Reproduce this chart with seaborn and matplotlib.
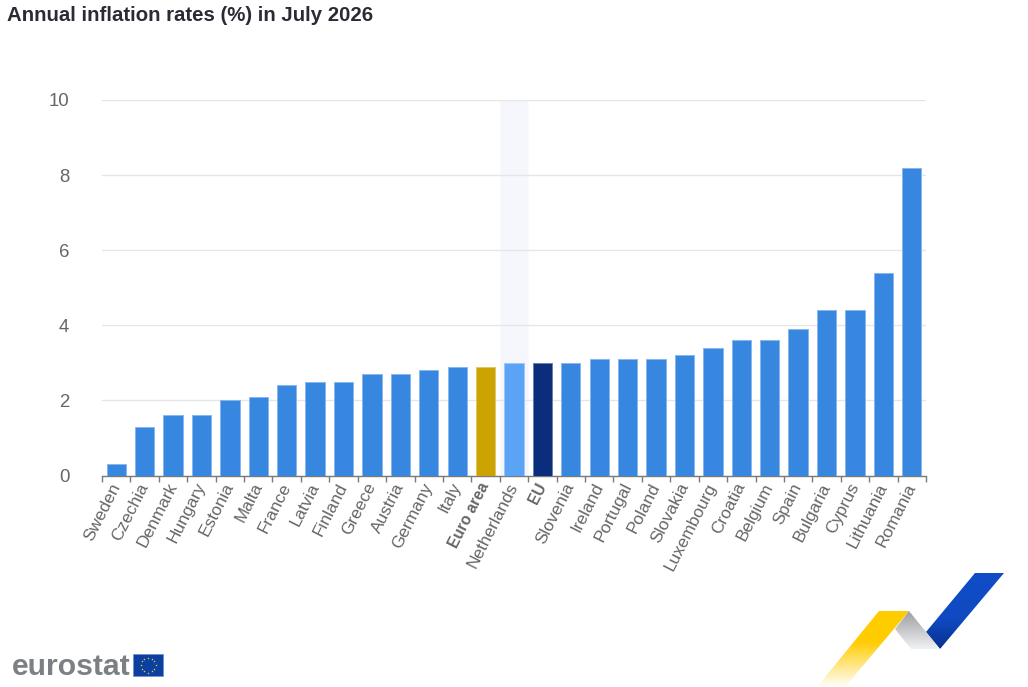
import numpy as np
import pandas as pd
import matplotlib
matplotlib.use('Agg')
import matplotlib.pyplot as plt
import seaborn as sns
from matplotlib.colors import to_rgb
from matplotlib.patches import Polygon, Rectangle

countries = ['Sweden', 'Czechia', 'Denmark', 'Hungary', 'Estonia', 'Malta', 'France', 'Latvia',
             'Finland', 'Greece', 'Austria', 'Germany', 'Italy', 'Euro area', 'Netherlands', 'EU',
             'Slovenia', 'Ireland', 'Portugal', 'Poland', 'Slovakia', 'Luxembourg', 'Croatia',
             'Belgium', 'Spain', 'Bulgaria', 'Cyprus', 'Lithuania', 'Romania']
rates = [0.3, 1.3, 1.6, 1.6, 2.0, 2.1, 2.4, 2.5, 2.5, 2.7, 2.7, 2.8, 2.9, 2.9, 3.0, 3.0,
         3.0, 3.1, 3.1, 3.1, 3.2, 3.4, 3.6, 3.6, 3.9, 4.4, 4.4, 5.4, 8.2]
y_ticks = [0, 2, 4, 6, 8, 10]

BLUE = '#3787e0'
special = {'Euro area': '#cca300', 'Netherlands': '#5aa3f5', 'EU': '#0a2d7c'}
bold_labels = ['Euro area', 'EU']
W, H = 1028, 687

sns.set_theme(style='white')
plt.rcParams['font.family'] = ['Liberation Sans', 'DejaVu Sans']

df = pd.DataFrame({'country': countries, 'rate': rates})
palette = {c: special.get(c, BLUE) for c in countries}

fig = plt.figure(figsize=(W / 100, H / 100), dpi=100)
ax = fig.add_axes([102 / W, 1 - 475.5 / H, 824 / W, 375.5 / H])

# highlighted column behind the bars
ax.axvspan(13.5, 14.5, color='#f5f7fc', lw=0, zorder=0)

sns.barplot(data=df, x='country', y='rate', hue='country', palette=palette, dodge=False,
            legend=False, width=0.68, saturation=1, ax=ax, zorder=3)

# thin lighter rim around each bar
for bar in ax.patches:
    r, g, b = to_rgb(bar.get_facecolor())
    bar.set_edgecolor((r + (1 - r) * 0.4, g + (1 - g) * 0.4, b + (1 - b) * 0.4))
    bar.set_linewidth(0.7)

ax.set_xlim(-0.5, len(countries) - 0.5)
ax.set_ylim(0, 10)
ax.set_xlabel('')
ax.set_ylabel('')
ax.set_yticks(y_ticks)
ax.tick_params(axis='y', length=0, labelsize=13.4, labelcolor='#666666', pad=23.5)
ax.yaxis.grid(True, color='#e6e6e6', lw=1)
ax.set_axisbelow(True)
for s in ['top', 'left', 'right']:
    ax.spines[s].set_visible(False)
ax.spines['bottom'].set_color('#7a7a7a')
ax.spines['bottom'].set_linewidth(1)

# ticks sit on the category boundaries, labels stay centred
ax.set_xticks(np.arange(len(countries) + 1) - 0.5)
ax.set_xticklabels([])
ax.tick_params(axis='x', length=4.5, width=1, color='#7a7a7a', bottom=True)
ax.set_xticks(np.arange(len(countries)), labels=countries, minor=True)
ax.tick_params(axis='x', which='minor', length=0, pad=6, labelsize=12.4, labelcolor='#666666')
for lab in ax.get_xticklabels(minor=True):
    lab.set_rotation(63)
    lab.set_ha('right')
    lab.set_rotation_mode('anchor')
    lab.set_va('center')
    if lab.get_text() in bold_labels:
        lab.set_fontweight('bold')
        lab.set_fontsize(11.2)

fig.text(7 / W, 1 - 21 / H, 'Annual inflation rates (%) in July 2026', fontsize=14.65,
         fontweight='bold', color='#2b2b36', ha='left', va='baseline')

# overlay in pixel coordinates for the logos
logo = fig.add_axes([0, 0, 1, 1], zorder=5)
logo.set_xlim(0, W)
logo.set_ylim(H, 0)
logo.axis('off')
logo.patch.set_alpha(0)


def gradient_poly(pts, stops, extent):
    # stops: (position 0-1 from top of extent, rgba)
    t = np.linspace(0, 1, 128)
    pos = [s[0] for s in stops]
    img = np.stack([np.interp(t, pos, [s[1][i] for s in stops]) for i in range(4)], axis=1)
    im = logo.imshow(img[:, None, :], extent=extent, origin='upper', aspect='auto', zorder=2,
                     interpolation='bilinear')
    im.set_clip_path(Polygon(pts, closed=True, transform=logo.transData))


gradient_poly([(975, 573), (1004, 573), (940, 649), (926, 632)],
              [(0, (0.06, 0.30, 0.78, 1)), (0.6, (0.06, 0.29, 0.76, 1)), (1, (0.04, 0.18, 0.55, 1))],
              (920, 1008, 650, 573))
gradient_poly([(879, 611), (909, 611), (845, 687), (817, 687)],
              [(0, (1, 0.8, 0, 1)), (0.4, (1, 0.8, 0, 1)), (1, (1, 0.8, 0, 0.02))],
              (815, 910, 687, 611))
gradient_poly([(909, 611), (895, 629), (911, 649), (940, 649)],
              [(0, (0.62, 0.62, 0.64, 1)), (1, (0.94, 0.95, 0.95, 1))],
              (892, 942, 649, 611))
logo.set_xlim(0, W)
logo.set_ylim(H, 0)

logo.text(12, 675, 'eurostat', fontsize=21.7, fontweight='bold', color='#7c8084',
          ha='left', va='baseline')
logo.add_patch(Rectangle((133, 654), 30, 22, fc='#0b3fa0', ec='#6f8fd0', lw=0.5, zorder=2))
star_a = np.arange(12) * np.pi / 6
logo.scatter(148 + 7.5 * np.cos(star_a), 665 + 7.5 * np.sin(star_a), s=3, c='#f3d030',
             marker='*', lw=0, zorder=3)

fig.savefig('out.png', dpi=100)
